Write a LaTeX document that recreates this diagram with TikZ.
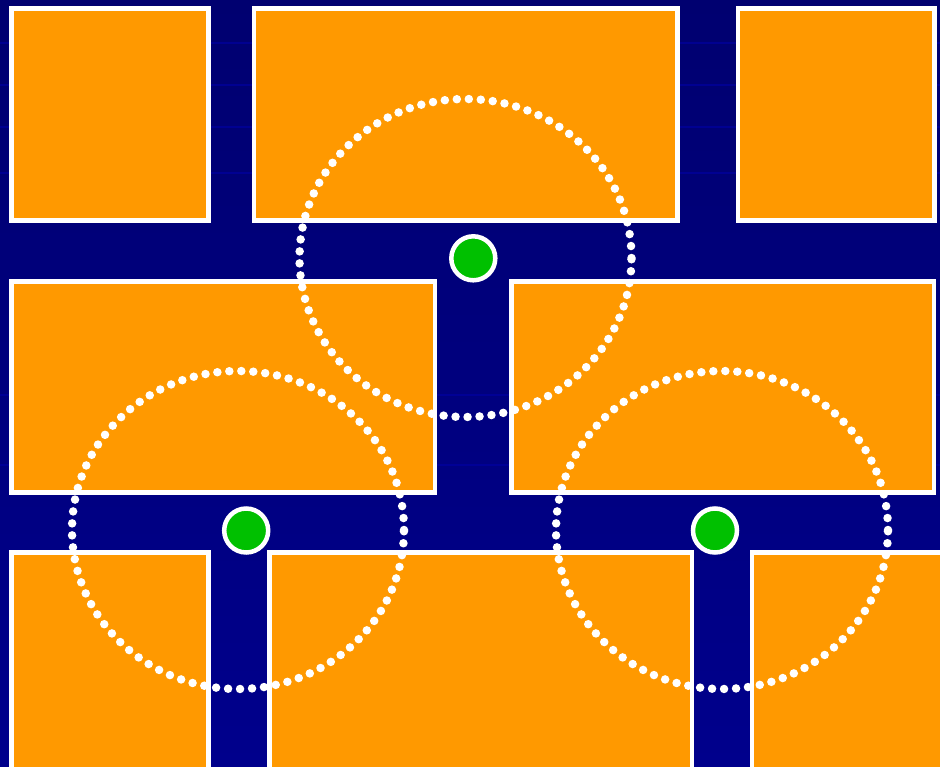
\documentclass[tikz,border=0pt]{standalone}
\usepackage{tikz}
\usetikzlibrary{positioning}

\definecolor{navytop}{RGB}{0,0,112}
\definecolor{navybot}{RGB}{0,0,140}
\definecolor{stripe}{RGB}{0,0,165}
\definecolor{blockorange}{RGB}{255,153,0}
\definecolor{dotgreen}{RGB}{0,192,0}

\begin{document}
\begin{tikzpicture}[x=1pt, y=-1pt,
    block/.style={draw=white, line width=4.5pt, fill=blockorange, inner sep=0pt, outer sep=0pt},
    site/.style={circle, draw=white, line width=4.5pt, fill=dotgreen, minimum size=44pt, inner sep=0pt},
    ring/.style={white, line width=8.5pt, line cap=round, dash pattern=on 0pt off 12pt}
]
\useasboundingbox (0,0) rectangle (940,766);
\clip (0,0) rectangle (940,766);
\shade[top color=navytop, bottom color=navybot] (0,0) rectangle (940,766);
% faint stripes of the background
\foreach \y in {43,85,127,173,395,465}
    \draw[stripe, line width=2pt, opacity=0.6] (0,\y) -- (940,\y);

% row 1
\node[block, minimum width=196.6pt, minimum height=212pt] (lot1) at (110,114.5) {};
\node[block, minimum width=423.3pt, minimum height=212pt] (lot2) at (465.8,114.5) {};
\node[block, minimum width=196.5pt, minimum height=212pt] (lot3) at (836.2,114.5) {};
% row 2
\node[block, minimum width=423.4pt, minimum height=211pt] (lot4) at (223.3,387.2) {};
\node[block, minimum width=422.4pt, minimum height=211pt] (lot5) at (722.8,387.2) {};
% row 3
\node[block, minimum width=196.6pt, minimum height=227pt] (lot6) at (110,666) {};
\node[block, minimum width=422.5pt, minimum height=227pt] (lot7) at (480.8,666) {};
\node[block, minimum width=208pt, minimum height=227pt] (lot8) at (856,666) {};

% coverage rings
\draw[ring] (465.5,258) ellipse [x radius=166pt, y radius=159pt];
\draw[ring] (238,530) ellipse [x radius=166pt, y radius=159pt];
\draw[ring] (722,530) ellipse [x radius=166pt, y radius=159pt];

% stations
\node[site] (siteA) at (473.3,258.3) {};
\node[site] (siteB) at (246.2,530.5) {};
\node[site] (siteC) at (715,530.5) {};
\end{tikzpicture}
\end{document}
